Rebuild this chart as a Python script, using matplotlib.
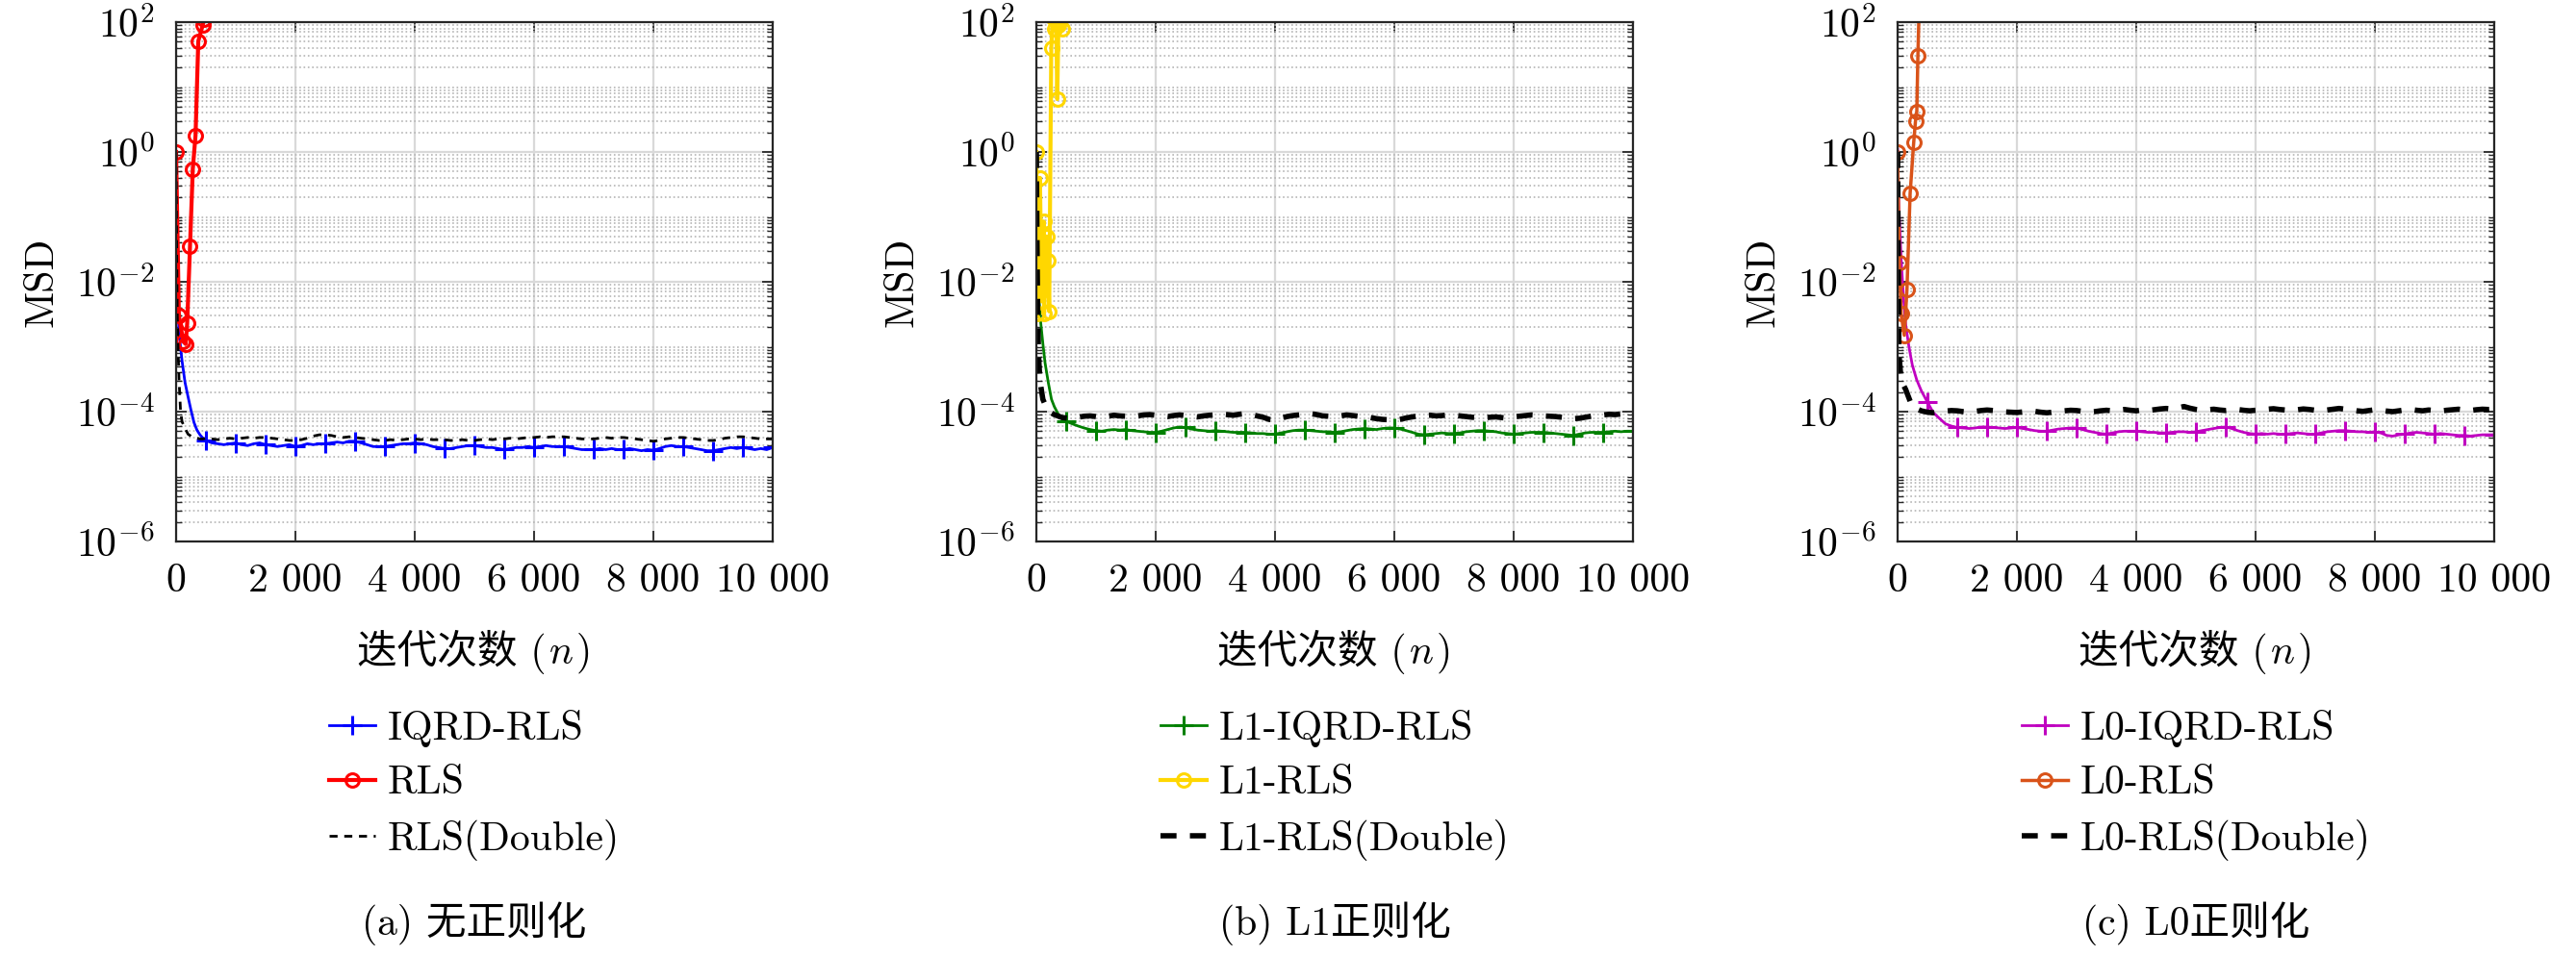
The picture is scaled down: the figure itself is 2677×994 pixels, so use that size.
import matplotlib
matplotlib.use("Agg")
import matplotlib.pyplot as plt
import numpy as np
from matplotlib.ticker import FixedLocator, FuncFormatter, LogLocator, NullFormatter
from matplotlib.offsetbox import TextArea, HPacker, AnchoredOffsetbox

plt.rcParams['mathtext.fontset'] = 'cm'
plt.rcParams['font.family'] = ['cmr10', 'Noto Sans CJK SC', 'DejaVu Sans']
plt.rcParams['axes.formatter.use_mathtext'] = True
plt.rcParams['font.size'] = 30

# ---------------- data ----------------
n_tail = np.arange(500, 10001, 100)

# (a) no regularization
n_iqrd_a = [0, 10, 25, 50, 100, 150, 200, 250, 300, 350, 400, 450]
v_iqrd_a = [1, 0.05, 6e-3, 1.6e-3, 6e-4, 2.8e-4, 1.7e-4, 1.05e-4, 6.8e-5, 5.2e-5, 4.4e-5, 3.9e-5]
tail_iqrd_a = [3.6, 3.3, 3.2, 3.1, 3.2, 3.3, 3.1, 3.0, 3.2, 3.3,
               3.1, 3.0, 2.9, 3.0, 3.1, 2.9, 3.0, 3.2, 3.1, 3.2,
               3.2, 3.3, 3.4, 3.3, 3.5, 3.5, 3.3, 3.1, 2.9, 2.9,
               2.9, 3.0, 3.1, 3.2, 3.2, 3.3, 3.2, 3.1, 2.9, 2.8,
               2.7, 2.7, 2.8, 2.9, 3.0, 3.0, 2.9, 2.8, 2.8, 2.7,
               2.6, 2.7, 2.8, 2.8, 2.9, 2.8, 2.9, 3.0, 2.9, 2.9,
               2.9, 2.8, 2.7, 2.6, 2.6, 2.6, 2.7, 2.6, 2.7, 2.6,
               2.6, 2.7, 2.6, 2.5, 2.6, 2.55, 2.7, 2.9, 3.0, 2.9,
               2.9, 2.8, 2.7, 2.6, 2.5, 2.5, 2.6, 2.7, 2.8, 2.7,
               2.8, 2.7, 2.6, 2.7, 2.6, 2.8]

n_rls_a = [0, 47, 120, 160, 186, 233, 280, 326, 372, 446, 470]
v_rls_a = [1, 3e-3, 1.2e-3, 1.1e-3, 2.3e-3, 3.5e-2, 0.55, 1.8, 51, 90, 110]

n_dbl_a = [0, 10, 20, 35, 50, 75, 100, 150, 200, 250, 300, 350, 400, 450]
v_dbl_a = [1, 0.03, 3e-3, 8e-4, 3e-4, 1e-4, 7e-5, 5.5e-5, 4.5e-5, 4.2e-5, 4e-5, 3.9e-5, 3.8e-5, 3.8e-5]
tail_dbl_a = [3.9, 3.8, 3.7, 3.8, 3.9, 3.8, 3.9, 4.0, 3.9, 4.0,
              4.0, 3.9, 3.8, 3.7, 3.6, 3.6, 3.7, 3.9, 4.2, 4.4,
              4.4, 4.3, 4.1, 4.0, 4.1, 4.0, 3.9, 3.8, 3.7, 3.6,
              3.6, 3.7, 3.6, 3.7, 3.8, 3.8, 3.7, 3.8, 3.7, 3.7,
              3.7, 3.6, 3.6, 3.7, 3.6, 3.6, 3.7, 3.8, 3.7, 3.8,
              3.8, 3.9, 3.8, 3.9, 4.0, 4.0, 4.1, 4.0, 4.1, 4.1,
              4.1, 4.0, 3.9, 3.8, 3.8, 3.8, 3.9, 4.0, 3.9, 4.0,
              4.0, 3.9, 3.8, 3.7, 3.6, 3.5, 3.6, 3.8, 3.9, 4.0,
              4.0, 3.9, 3.8, 3.7, 3.6, 3.6, 3.7, 3.9, 4.0, 4.1,
              4.1, 4.0, 3.9, 3.8, 3.8, 3.8]

# (b) L1 regularization
n_iqrd_b = [0, 15, 40, 72, 110, 145, 200, 253, 300, 362, 430]
v_iqrd_b = [1, 0.05, 6e-3, 2.4e-3, 1.1e-3, 5.7e-4, 2.8e-4, 1.55e-4, 1.2e-4, 9.3e-5, 7.8e-5]
tail_iqrd_b = [7.1, 6.5, 6.0, 5.6, 5.3, 5.1, 5.0, 5.2, 5.3, 5.2,
               5.3, 5.1, 5.0, 4.9, 4.8, 4.8, 5.0, 5.3, 5.6, 5.8,
               5.7, 5.4, 5.2, 5.1, 5.0, 5.1, 5.0, 4.9, 4.8, 4.8,
               4.8, 4.7, 4.6, 4.6, 4.5, 4.5, 4.7, 4.9, 5.1, 5.2,
               5.2, 5.1, 5.0, 4.9, 4.9, 4.8, 4.9, 5.1, 5.3, 5.4,
               5.5, 5.4, 5.3, 5.5, 5.6, 5.6, 5.4, 5.1, 4.8, 4.5,
               4.4, 4.5, 4.6, 4.7, 4.6, 4.6, 4.7, 4.9, 5.0, 5.1,
               5.1, 5.0, 4.9, 4.7, 4.6, 4.5, 4.6, 4.7, 4.8, 4.8,
               4.8, 4.7, 4.6, 4.5, 4.4, 4.3, 4.5, 4.7, 4.8, 4.8,
               4.8, 4.9, 5.0, 4.9, 5.0, 5.0]

n_rls_b = [0, 20, 60, 90, 123, 130, 170, 195, 215, 250, 275, 300, 330, 350, 370, 400, 430, 450]
v_rls_b = [1, 3.3e-3, 0.4, 5e-3, 0.085, 3.3e-3, 0.05, 0.021, 3.5e-3, 40, 120, 80, 150, 6.5, 90, 200, 80, 300]

n_dbl_b = [0, 10, 20, 36, 60, 109, 160, 217, 300, 434]
v_dbl_b = [1, 0.05, 5e-3, 7.4e-4, 3e-4, 1.55e-4, 1.2e-4, 1e-4, 9e-5, 8.1e-5]
tail_dbl_b = [8.0, 7.8, 8.2, 8.5, 8.6, 8.4, 8.2, 8.5, 8.8, 8.6,
              8.5, 8.3, 8.6, 8.9, 9.0, 8.8, 8.6, 8.4, 8.7, 8.9,
              8.7, 8.5, 8.3, 8.6, 8.8, 8.9, 9.2, 9.0, 8.8, 9.1,
              9.3, 9.0, 8.6, 8.2, 7.6, 7.4, 7.9, 8.4, 8.7, 8.9,
              9.1, 9.3, 9.0, 8.6, 8.5, 8.4, 8.6, 8.9, 8.7, 8.5,
              8.3, 8.1, 7.8, 7.6, 7.5, 7.3, 7.6, 8.0, 8.3, 8.6,
              8.7, 8.8, 8.6, 8.7, 8.9, 8.8, 8.6, 8.4, 8.2, 8.1,
              8.0, 8.2, 8.3, 8.1, 7.9, 8.3, 8.5, 8.7, 8.9, 8.8,
              8.6, 8.5, 8.4, 8.2, 8.0, 7.8, 7.9, 8.2, 8.5, 8.7,
              8.9, 9.1, 9.0, 9.2, 9.3, 9.3]

# (c) L0 regularization
n_iqrd_c = [0, 20, 60, 100, 135, 190, 247, 320, 397]
v_iqrd_c = [1.1, 0.15, 0.022, 5.5e-3, 2.2e-3, 1e-3, 5.2e-4, 3.1e-4, 2.1e-4]
tail_iqrd_c = [14, 9.6, 7.9, 6.5, 6.0, 5.7, 5.6, 5.5, 5.6, 5.8,
               5.8, 5.7, 5.6, 5.5, 5.6, 5.7, 5.5, 5.3, 5.1, 5.0,
               5.0, 5.2, 5.4, 5.5, 5.6, 5.6, 5.3, 5.0, 4.8, 4.6,
               4.5, 4.7, 4.9, 5.0, 5.0, 5.0, 4.9, 4.8, 4.8, 4.7,
               4.7, 4.8, 4.9, 4.9, 4.8, 4.9, 5.1, 5.3, 5.5, 5.7,
               5.8, 5.5, 5.1, 4.8, 4.6, 4.5, 4.6, 4.5, 4.6, 4.5,
               4.5, 4.6, 4.7, 4.6, 4.5, 4.5, 4.7, 4.9, 5.0, 5.1,
               5.1, 5.0, 4.9, 4.9, 4.8, 4.9, 4.7, 4.3, 4.2, 4.4,
               4.5, 4.7, 4.8, 4.7, 4.6, 4.5, 4.6, 4.5, 4.4, 4.3,
               4.3, 4.2, 4.3, 4.4, 4.4, 4.4]

n_rls_c = [0, 30, 60, 112, 157, 210, 270, 300, 322, 340, 360]
v_rls_c = [1, 0.02, 3.2e-3, 1.5e-3, 7.6e-3, 0.23, 1.4, 3, 4.2, 30, 150]

n_dbl_c = [0, 10, 22, 60, 135, 247, 397]
v_dbl_c = [1, 0.02, 7.7e-4, 3e-4, 2.2e-4, 1.18e-4, 1.03e-4]
tail_dbl_c = [9.8, 9.6, 9.9, 10.2, 10.4, 10.3, 10.0, 9.8, 10.1, 10.4,
              10.6, 10.4, 10.1, 9.9, 9.8, 9.7, 9.9, 10.2, 10.1, 9.8,
              9.6, 9.8, 10.1, 10.3, 10.5, 10.4, 10.1, 9.8, 10.0, 10.3,
              10.5, 10.3, 10.6, 10.8, 10.5, 10.3, 10.6, 10.4, 10.7, 11.0,
              11.2, 11.0, 11.4, 12.0, 11.3, 10.8, 10.5, 10.7, 10.9, 10.6,
              10.4, 10.6, 10.8, 10.5, 10.3, 10.5, 10.7, 10.9, 11.1, 10.8,
              10.6, 10.4, 10.7, 11.0, 10.8, 10.5, 10.3, 10.6, 10.9, 11.2,
              10.9, 10.6, 10.3, 10.1, 10.4, 10.7, 10.5, 10.2, 10.0, 10.3,
              10.6, 10.8, 10.5, 10.3, 10.6, 10.4, 10.2, 10.5, 10.7, 10.9,
              10.6, 10.4, 10.7, 10.9, 10.8, 10.9]

panels = [
    dict(caption="(a) 无正则化",
         iqrd=(n_iqrd_a, v_iqrd_a, tail_iqrd_a), rls=(n_rls_a, v_rls_a), dbl=(n_dbl_a, v_dbl_a, tail_dbl_a),
         labels=["IQRD-RLS", "RLS", "RLS(Double)"],
         colors=["#0000ff", "#ff0000"], lw=[2.0, 3.0], dbl_lw=2.0),
    dict(caption="(b) L1正则化",
         iqrd=(n_iqrd_b, v_iqrd_b, tail_iqrd_b), rls=(n_rls_b, v_rls_b), dbl=(n_dbl_b, v_dbl_b, tail_dbl_b),
         labels=["L1-IQRD-RLS", "L1-RLS", "L1-RLS(Double)"],
         colors=["#008000", "#ffd700"], lw=[2.0, 3.0], dbl_lw=4.0),
    dict(caption="(c) L0正则化",
         iqrd=(n_iqrd_c, v_iqrd_c, tail_iqrd_c), rls=(n_rls_c, v_rls_c), dbl=(n_dbl_c, v_dbl_c, tail_dbl_c),
         labels=["L0-IQRD-RLS", "L0-RLS", "L0-RLS(Double)"],
         colors=["#c000c0", "#d95319"], lw=[2.0, 2.5], dbl_lw=4.0),
]

W, H = 2677, 994
fig = plt.figure(figsize=(W / 100, H / 100), dpi=100)
lefts = [183, 1077, 1972]
ax_w, ax_top, ax_bot = 620, 23, 563
txt = dict(fontsize=30, family=['cmr10', 'Noto Sans CJK SC', 'DejaVu Sans'])

for left, p in zip(lefts, panels):
    ax = fig.add_axes([left / W, 1 - ax_bot / H, ax_w / W, (ax_bot - ax_top) / H])

    n0, v0, tail = p["iqrd"]
    n_i = list(n0) + list(n_tail)
    v_i = list(v0) + [t * 1e-5 for t in tail]
    marks = [k for k, x in enumerate(n_i) if x >= 500 and x % 500 == 0]
    ax.plot(n_i, v_i, color=p["colors"][0], lw=p["lw"][0], marker="+", markersize=14,
            markeredgewidth=2.2, markevery=marks, label=p["labels"][0])

    ax.plot(p["rls"][0], p["rls"][1], color=p["colors"][1], lw=p["lw"][1], marker="o",
            markersize=10, markerfacecolor="none", markeredgewidth=2.2, label=p["labels"][1])

    n0, v0, tail = p["dbl"]
    ax.plot(list(n0) + list(n_tail), list(v0) + [t * 1e-5 for t in tail], color="black",
            lw=p["dbl_lw"], ls=(0, (3, 2.5)), label=p["labels"][2])

    ax.set_yscale("log")
    ax.set_xlim(0, 10000)
    ax.set_ylim(1e-6, 1e2)
    ax.xaxis.set_major_locator(FixedLocator([0, 2000, 4000, 6000, 8000, 10000]))
    ax.xaxis.set_major_formatter(FuncFormatter(lambda x, pos: f"{int(x):,}".replace(",", " ")))
    ax.yaxis.set_major_locator(FixedLocator([1e-6, 1e-4, 1e-2, 1e0, 1e2]))
    ax.yaxis.set_major_formatter(FuncFormatter(lambda y, pos: r"$10^{%d}$" % round(np.log10(y))))
    ax.yaxis.set_minor_locator(LogLocator(base=10, subs=np.arange(1, 10), numticks=100))
    ax.yaxis.set_minor_formatter(NullFormatter())

    ax.grid(which="major", color="#d9d9d9", lw=1.6, ls="-")
    ax.grid(which="minor", axis="y", color="#b5b5b5", lw=1.2, ls=":")
    ax.set_axisbelow(True)
    ax.tick_params(which="both", direction="in", top=True, right=True, colors="#262626",
                   labelcolor="black", labelsize=30)
    ax.tick_params(which="major", length=8, width=1.3, pad=16)
    ax.tick_params(which="minor", length=4, width=1.0)
    for s in ax.spines.values():
        s.set_color("#262626")
        s.set_linewidth(1.6)

    ax.set_ylabel("MSD", fontsize=30, labelpad=12)

    # x label: Chinese text plus an italic n, packed on one baseline
    xl = HPacker(children=[TextArea("迭代次数 (", textprops=txt),
                           TextArea("$n$", textprops=dict(fontsize=30)),
                           TextArea(")", textprops=txt)],
                 align="baseline", pad=0, sep=2)
    fig.add_artist(AnchoredOffsetbox(loc="center", child=xl, pad=0, borderpad=0, frameon=False,
                                     bbox_to_anchor=((left + ax_w / 2) / W, 1 - 678 / H),
                                     bbox_transform=fig.transFigure))

    ax.legend(loc="upper center", bbox_to_anchor=(0.5, -0.27), frameon=False, fontsize=30,
              handlelength=1.15, handletextpad=0.3, labelspacing=0.45, borderpad=0.2)
    fig.text((left + ax_w / 2) / W, 1 - 960 / H, p["caption"], ha="center", va="center", **txt)

fig.savefig("out.png", dpi=100)
